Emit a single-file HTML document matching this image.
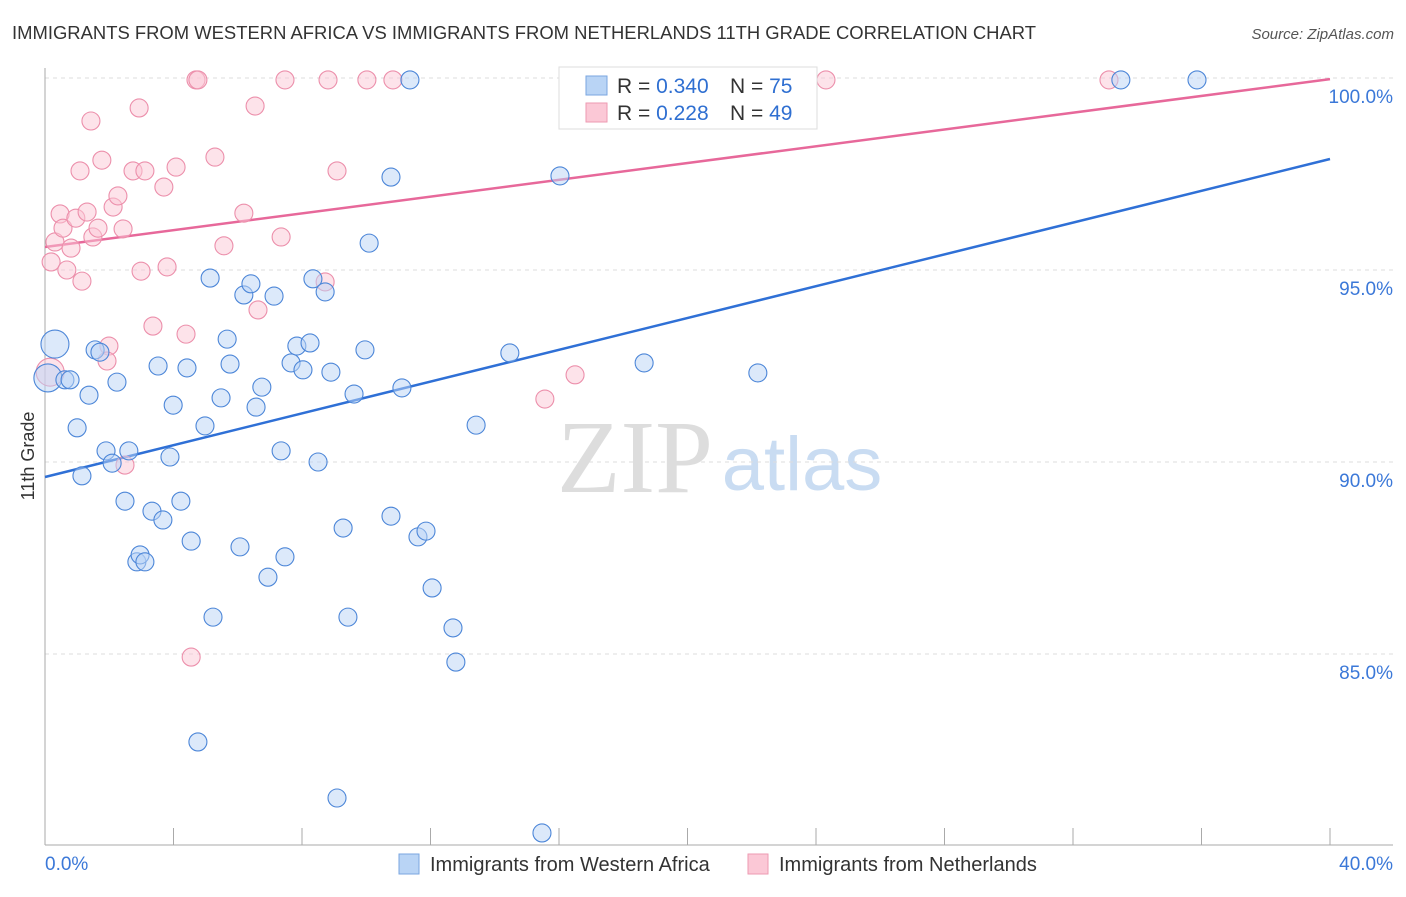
<!DOCTYPE html>
<html><head><meta charset="utf-8"><style>
body{margin:0;background:#fff;font-family:"Liberation Sans",sans-serif;}
</style></head><body>
<svg width="1406" height="892" xmlns="http://www.w3.org/2000/svg">
<text x="12" y="39" font-size="18" fill="#333" textLength="1024" lengthAdjust="spacingAndGlyphs">IMMIGRANTS FROM WESTERN AFRICA VS IMMIGRANTS FROM NETHERLANDS 11TH GRADE CORRELATION CHART</text>
<text x="1394" y="39" font-size="15" fill="#555" font-style="italic" text-anchor="end">Source: ZipAtlas.com</text>
<text x="0" y="0" transform="translate(34,456) rotate(-90)" font-size="18" fill="#333" text-anchor="middle">11th Grade</text>
<g>
<text x="635" y="492" font-size="104" font-family="Liberation Serif,serif" fill="#ddd" text-anchor="middle">ZIP</text>
<text x="802" y="490" font-size="76" fill="#c9dcf2" text-anchor="middle">atlas</text>
</g>
<g id="grid"></g><g id="axes"></g><g id="trend"></g><g id="pts"></g>
<g>
<rect x="559" y="67" width="258" height="62" fill="#fff" stroke="#ddd"/>
<rect x="586" y="76" width="21" height="19" fill="#b9d4f5" stroke="#7aa6e0"/>
<rect x="586" y="103" width="21" height="19" fill="#fbc8d6" stroke="#ee9ab2"/>
<text x="617" y="93" font-size="21" fill="#333">R = <tspan fill="#2f6fd1">0.340</tspan></text>
<text x="730" y="93" font-size="21" fill="#333">N = <tspan fill="#2f6fd1">75</tspan></text>
<text x="617" y="120" font-size="21" fill="#333">R = <tspan fill="#2f6fd1"> 0.228</tspan></text>
<text x="730" y="120" font-size="21" fill="#333">N = <tspan fill="#2f6fd1">49</tspan></text>
</g>
<g>
<rect x="399" y="854" width="20" height="20" fill="#b9d4f5" stroke="#7aa6e0"/>
<text x="430" y="871" font-size="20" fill="#333">Immigrants from Western Africa</text>
<rect x="748" y="854" width="20" height="20" fill="#fbc8d6" stroke="#ee9ab2"/>
<text x="779" y="871" font-size="20" fill="#333">Immigrants from Netherlands</text>
</g>
</svg>
<script>
const blueX=[0.31,0.09,0.62,0.78,1.37,1.56,1.71,1.0,1.15,1.9,2.09,2.24,2.61,2.49,2.86,2.96,3.11,3.33,3.52,3.67,3.89,3.99,4.23,4.42,4.55,4.98,4.76,5.14,5.23,5.48,5.67,5.76,6.07,6.19,6.41,6.57,6.75,6.94,7.13,7.35,7.47,7.66,7.84,8.03,8.25,8.34,8.5,8.72,8.9,9.09,9.28,9.43,9.62,9.96,10.09,10.77,10.77,11.11,11.36,11.61,11.86,12.05,12.7,12.79,13.42,14.47,15.47,16.03,16.65,18.65,20.39,22.19,33.49,35.86];
const blueY=[93.07,92.19,92.14,92.14,91.74,92.92,92.86,90.89,89.64,90.29,89.97,92.08,90.29,88.98,87.40,87.58,87.40,88.72,92.50,88.49,90.13,91.48,88.98,92.45,87.94,90.94,82.71,94.79,85.96,91.67,93.20,92.55,87.79,94.35,94.64,91.43,91.95,87.0,94.32,90.29,87.53,92.58,93.02,92.40,93.10,94.77,90.0,94.43,92.34,81.25,88.28,85.96,91.77,92.92,95.70,97.42,88.59,91.93,99.95,88.05,88.20,86.72,85.68,84.79,90.96,92.84,80.34,97.45,99.95,92.58,99.95,92.32,99.95,99.95];
const blueBig=[0,1];
const pinkX=[0.19,0.31,0.47,0.56,0.68,0.81,0.96,1.09,1.15,1.31,1.43,1.49,1.65,1.77,1.99,1.93,2.12,2.27,2.43,2.49,2.74,2.93,2.99,3.11,3.36,3.70,3.80,4.08,4.39,4.55,4.70,4.76,5.29,5.57,6.19,6.54,6.63,7.35,7.47,8.72,8.81,9.09,10.02,10.83,15.56,16.50,24.31,33.12,0.16];
const pinkY=[95.21,95.73,96.46,96.09,95.0,95.57,96.35,97.58,94.71,96.51,98.88,95.86,96.09,97.86,93.02,92.63,96.64,96.93,96.07,89.92,97.58,99.22,94.97,97.58,93.54,97.16,95.08,97.68,93.33,84.92,99.95,99.95,97.94,95.63,96.48,99.27,93.96,95.86,99.95,94.69,99.95,97.58,99.95,99.95,91.64,92.27,99.95,99.95,92.34];
const pinkBig=[48];
const blueTrend=[89.61,97.89];
const pinkTrend=[95.6,99.97];
const yTicks=[100,95,90,85];
const xTickVals=[4,8,12,16,20,24,28,32,36,40];
const X=v=>45+v*32.125, Y=v=>78+(100-v)*38.4;
const NS="http://www.w3.org/2000/svg";
function mk(t,a,p){const e=document.createElementNS(NS,t);for(const k in a)e.setAttribute(k,a[k]);document.getElementById(p).appendChild(e);return e;}
yTicks.forEach(v=>{
 const l=mk('line',{x1:45,x2:1393,y1:Y(v),y2:Y(v),stroke:'#ddd','stroke-dasharray':'4,4'},'grid');
 
 
 const t=mk('text',{x:1393,y:Y(v)+25,'font-size':19,fill:'#3b78d8','text-anchor':'end'},'grid');
 t.textContent=v.toFixed(1)+'%';
 
 
});
let ax=mk('line',{x1:45,x2:45,y1:68,y2:845,stroke:'#aaa'},'axes');


ax=mk('line',{x1:45,x2:1393,y1:845,y2:845,stroke:'#aaa'},'axes');


xTickVals.forEach(v=>{const t=mk('line',{x1:X(v),x2:X(v),y1:828,y2:845,stroke:'#aaa'},'axes');
 
 });
let tl=mk('text',{x:45,y:870,'font-size':19,fill:'#3b78d8'},'axes');tl.textContent='0.0%';


tl=mk('text',{x:1393,y:870,'font-size':19,fill:'#3b78d8','text-anchor':'end'},'axes');tl.textContent='40.0%';


function pts(xs,ys,big,fill,stroke,name){xs.forEach((x,i)=>{const c=mk('circle',{cx:X(x),cy:Y(ys[i]),r:big.includes(i)?14:9,fill:fill,'fill-opacity':0.5,stroke:stroke,'stroke-width':1.1},'pts');
 
 });}
pts(pinkX,pinkY,pinkBig,'#fbc8d6','#ec8fab','point-netherlands');
pts(blueX,blueY,blueBig,'#b9d4f5','#4c86d8','point-western-africa');
let tr=mk('line',{x1:X(0),x2:X(40),y1:Y(blueTrend[0]),y2:Y(blueTrend[1]),stroke:'#2f70d6','stroke-width':2.5},'trend');


tr=mk('line',{x1:X(0),x2:X(40),y1:Y(pinkTrend[0]),y2:Y(pinkTrend[1]),stroke:'#e7689a','stroke-width':2.5},'trend');


</script>
</body></html>
